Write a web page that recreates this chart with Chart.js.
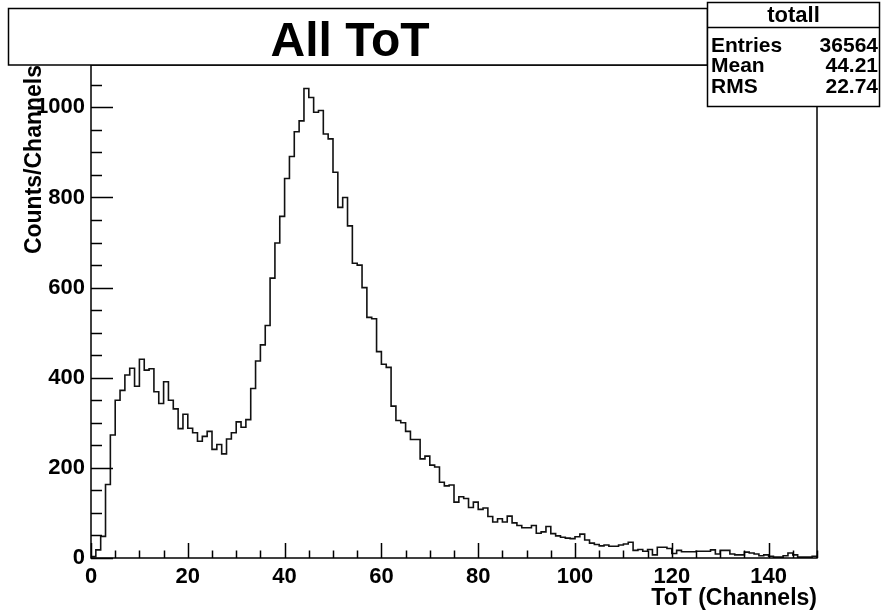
<!DOCTYPE html>
<html>
<head>
<meta charset="utf-8">
<title>All ToT</title>
<script src="https://cdn.jsdelivr.net/npm/chart.js@4.4.0/dist/chart.umd.min.js"></script>
<style>
  html, body { margin: 0; padding: 0; background: #fff; }
  #wrap { width: 881px; height: 612px; }
</style>
</head>
<body>
<div id="wrap"><canvas id="totChart" width="881" height="612"></canvas></div>
<script>
// ToT spectrum, one bin per channel, channels 0..150
const counts = [
    3, 18, 48, 163, 273, 350, 372, 406, 421, 381,
  441, 417, 420, 369, 343, 391, 350, 331, 287, 319,
  288, 278, 259, 270, 281, 241, 252, 231, 264, 278,
  302, 290, 307, 376, 437, 473, 516, 621, 699, 758,
  842, 891, 946, 970, 1042, 1022, 989, 993, 941, 930,
  856, 778, 800, 737, 654, 650, 600, 534, 531, 458,
  430, 423, 337, 305, 300, 281, 263, 263, 220, 226,
  206, 202, 168, 160, 162, 124, 136, 132, 112, 124,
  108, 111, 92, 80, 87, 80, 93, 78, 72, 67,
   67, 72, 55, 58, 70, 54, 49, 46, 44, 43,
   47, 53, 40, 33, 30, 27, 29, 26, 26, 29,
   31, 35, 17, 19, 15, 19, 7, 24, 24, 21,
   10, 17, 14, 14, 14, 15, 15, 15, 18, 9,
   17, 17, 9, 7, 7, 13, 11, 9, 5, 7,
    4, 2, 2, 5, 11, 7, 2, 2, 2, 4
];
const xTicks = [0, 20, 40, 60, 80, 100, 120, 140];
const yTicks = [0, 200, 400, 600, 800, 1000];
const xMin = 0, xMax = 150;
const yMax = 1094;

const histTitle = 'All ToT';
const histName = 'totall';
const statLabels = ['Entries', 'Mean', 'RMS'];
const statValues = ['36564', '44.21', '22.74'];

const FONT = "'Liberation Sans', Arial, sans-serif";

// step outline: start on the baseline, one point per bin low edge, close at the upper edge
const outline = [{ x: xMin, y: 0 }];
counts.forEach((c, i) => outline.push({ x: xMin + i, y: c }));
outline.push({ x: xMax, y: counts[counts.length - 1] });
outline.push({ x: xMax, y: 0 });

// ROOT style frame with inward tick marks, title box and stats box
const frameTicks = {
  id: 'frameTicks',
  afterDatasetsDraw(chart) {
    const { ctx, chartArea: a, scales: { x, y } } = chart;
    ctx.save();
    ctx.strokeStyle = '#000';
    ctx.lineWidth = 1.5;
    ctx.strokeRect(a.left, a.top, a.right - a.left, a.bottom - a.top);

    ctx.beginPath();
    for (let v = xMin; v <= xMax; v += 5) {
      const px = Math.round(x.getPixelForValue(v)) + 0.5;
      const len = v % 20 === 0 ? 15 : 7.5;
      ctx.moveTo(px, a.bottom);
      ctx.lineTo(px, a.bottom - len);
    }
    for (let v = 0; v <= yMax; v += 50) {
      const py = Math.round(y.getPixelForValue(v)) + 0.5;
      const len = v % 200 === 0 ? 22 : 11;
      ctx.moveTo(a.left, py);
      ctx.lineTo(a.left + len, py);
    }
    ctx.stroke();
    ctx.restore();
  },
  afterDraw(chart) {
    const { ctx } = chart;
    ctx.save();
    ctx.lineWidth = 1.5;
    ctx.strokeStyle = '#000';
    ctx.fillStyle = '#fff';

    // title box
    ctx.fillRect(8, 8, 700, 57);
    ctx.strokeRect(8.5, 8.5, 699, 56.5);
    ctx.fillStyle = '#000';
    ctx.font = `bold 48px ${FONT}`;
    ctx.textAlign = 'center';
    ctx.textBaseline = 'alphabetic';
    ctx.fillText(histTitle, 350, 56);

    // stats box
    const sx = 707, sy = 2, sw = 173, sh = 104;
    ctx.fillStyle = '#fff';
    ctx.fillRect(sx, sy, sw, sh);
    ctx.strokeRect(sx + 0.5, sy + 0.5, sw - 1, sh);
    ctx.beginPath();
    ctx.moveTo(sx, 27.5);
    ctx.lineTo(sx + sw, 27.5);
    ctx.stroke();

    ctx.fillStyle = '#000';
    ctx.font = `bold 22px ${FONT}`;
    ctx.textAlign = 'center';
    ctx.fillText(histName, sx + sw / 2, 22);
    ctx.font = `bold 21px ${FONT}`;
    const baselines = [52, 72, 93];
    statLabels.forEach((lab, i) => {
      ctx.textAlign = 'left';
      ctx.fillText(lab, sx + 4, baselines[i]);
      ctx.textAlign = 'right';
      ctx.fillText(statValues[i], sx + sw - 2, baselines[i]);
    });
    ctx.restore();
  }
};

const tickFont = { family: FONT, size: 22, weight: 'bold' };

new Chart(document.getElementById('totChart'), {
  type: 'line',
  data: {
    datasets: [{
      data: outline,
      stepped: 'before',
      borderColor: '#111',
      borderWidth: 1.6,
      pointRadius: 0,
      fill: false,
      tension: 0
    }]
  },
  options: {
    responsive: false,
    animation: false,
    events: [],
    layout: { padding: { top: 65, right: 64, left: 0, bottom: 0 } },
    plugins: {
      legend: { display: false },
      tooltip: { enabled: false },
      title: { display: false }
    },
    scales: {
      x: {
        type: 'linear',
        min: xMin,
        max: xMax,
        grid: { display: false, drawTicks: false },
        border: { display: false },
        afterBuildTicks: s => { s.ticks = xTicks.map(v => ({ value: v })); },
        afterFit: s => { s.height = 54; },
        ticks: { font: tickFont, color: '#000', padding: 6, maxRotation: 0, autoSkip: false, callback: v => String(v) },
        title: {
          display: true,
          text: 'ToT (Channels)',
          align: 'end',
          color: '#000',
          font: { family: FONT, size: 23, weight: 'bold' },
          padding: { top: 0, bottom: 0 }
        }
      },
      y: {
        type: 'linear',
        min: 0,
        max: yMax,
        grid: { display: false, drawTicks: false },
        border: { display: false },
        afterBuildTicks: s => { s.ticks = yTicks.map(v => ({ value: v })); },
        afterFit: s => { s.width = 91; },
        ticks: { font: tickFont, color: '#000', padding: 6, autoSkip: false, callback: v => String(v) },
        title: {
          display: true,
          text: 'Counts/Channels',
          align: 'end',
          color: '#000',
          font: { family: FONT, size: 23, weight: 'bold' },
          padding: { top: 21, bottom: 0 }
        }
      }
    }
  },
  plugins: [frameTicks]
});
</script>
</body>
</html>
